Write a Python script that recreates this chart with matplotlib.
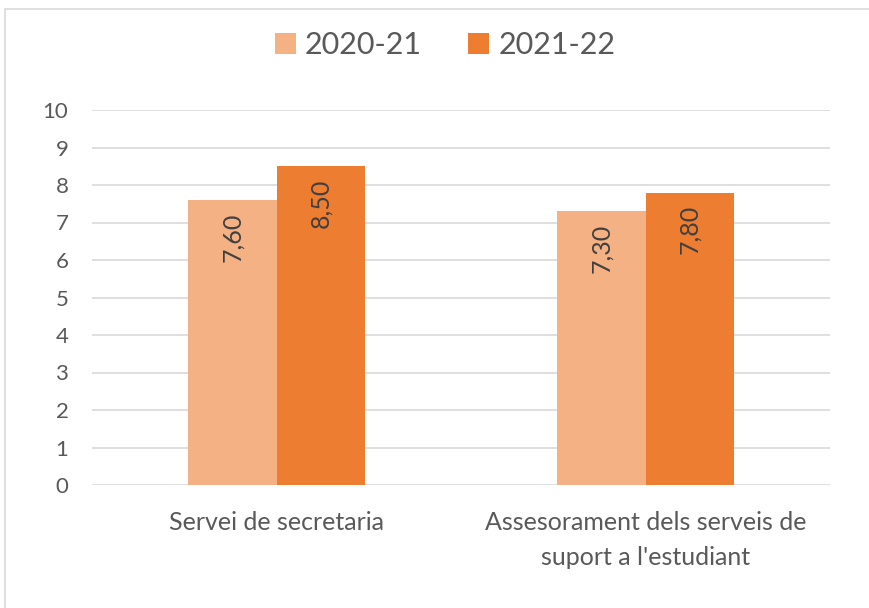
import matplotlib.pyplot as plt
from matplotlib.patches import Rectangle
import numpy as np

categories = ["Servei de secretaria", "Assesorament dels serveis de\nsuport a l'estudiant"]
series = ["2020-21", "2021-22"]
values_2021 = [7.60, 7.30]
values_2122 = [8.50, 7.80]
colors = ["#F4B183", "#ED7D31"]

plt.rcParams['font.family'] = ['Lato', 'DejaVu Sans']

W, H = 869, 608
fig = plt.figure(figsize=(W / 100, H / 100), dpi=100)
ax = fig.add_axes([92 / W, 1 - 485 / H, (830 - 92) / W, (485 - 110) / H])

# light border of the chart box
fig.patches.append(Rectangle((5 / W, -0.1), 1.2, 1 - 9 / H + 0.1, transform=fig.transFigure,
                             fill=False, edgecolor="#d9d9d9", lw=1.2))

x = np.arange(len(categories))
bw = 0.24
for i, (vals, name) in enumerate(zip([values_2021, values_2122], series)):
    bars = ax.bar(x + (i - 0.5) * bw, vals, bw, color=colors[i], label=name, zorder=2)
    for b, v in zip(bars, vals):
        ax.text(b.get_x() + b.get_width() / 2, v - 0.33, f"{v:.2f}".replace(".", ","),
                rotation=90, ha="center", va="top", fontsize=18, color="#404040", zorder=3)

ax.set_xlim(-0.5, 1.5)
ax.set_ylim(0, 10)
ax.set_yticks(range(0, 11))
ax.yaxis.grid(True, color="#d9d9d9", lw=1.2, zorder=0)
ax.set_axisbelow(True)
for s in ax.spines.values():
    s.set_visible(False)
ax.tick_params(axis="y", length=0, labelsize=16, colors="#595959", pad=17)
ax.tick_params(axis="x", length=0, labelsize=18, colors="#595959", pad=19)
ax.set_xticks(x)
ax.set_xticklabels(categories, linespacing=1.6)

fig.legend(loc="center", bbox_to_anchor=(445 / W, 1 - 45 / H), ncol=2, frameon=False,
           fontsize=22, labelcolor="#595959", handlelength=0.7, handleheight=0.7,
           handletextpad=0.3, columnspacing=1.5)

fig.savefig("out.png", dpi=100)
